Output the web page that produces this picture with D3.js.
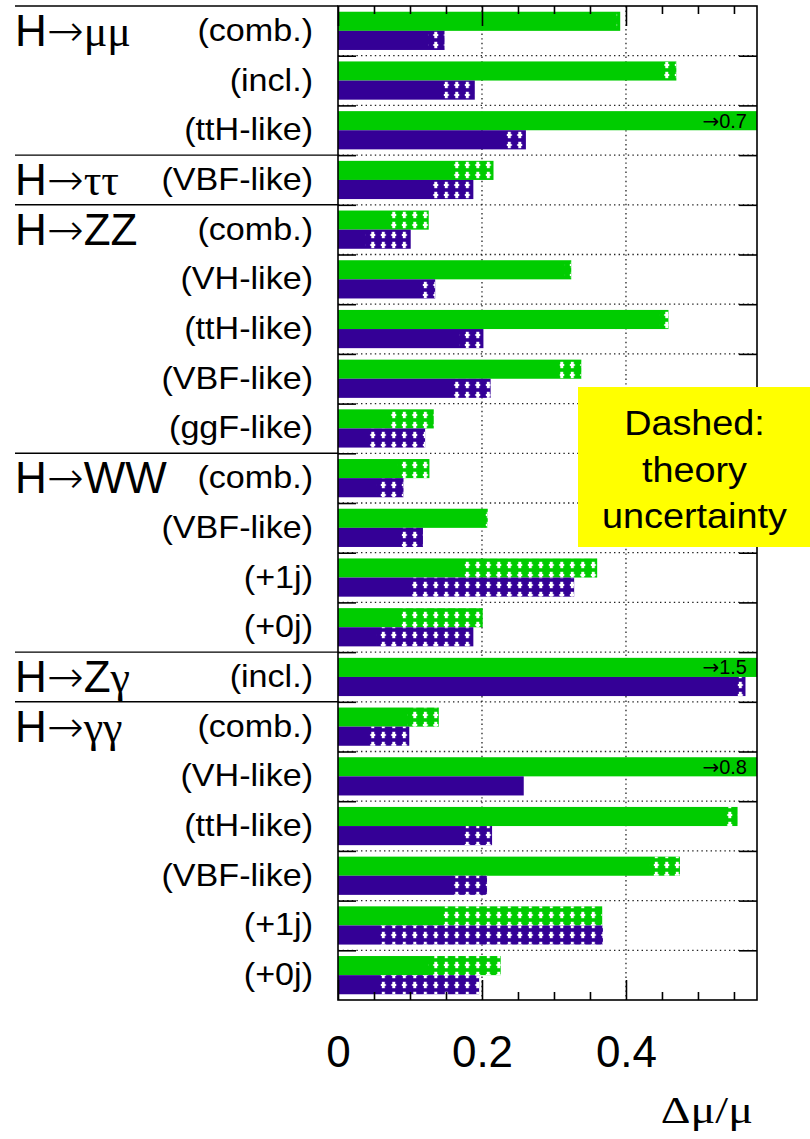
<!DOCTYPE html>
<html>
<head>
<meta charset="utf-8">
<script src="https://cdn.jsdelivr.net/npm/d3@7"></script>
<style>
body { margin: 0; background: #fff; }
svg text { font-family: "Liberation Sans", Arial, Helvetica, sans-serif; fill: #000; }
</style>
</head>
<body>
<div id="chart"></div>
<script>
// decay channels and their number of rows
var groupNames = ["H→μμ", "H→ττ", "H→ZZ", "H→WW", "H→Zγ", "H→γγ"];
var groupSizes = [3, 1, 5, 4, 1, 6];

var categories = ["(comb.)", "(incl.)", "(ttH-like)",
    "(VBF-like)",
    "(comb.)", "(VH-like)", "(ttH-like)", "(VBF-like)", "(ggF-like)",
    "(comb.)", "(VBF-like)", "(+1j)", "(+0j)",
    "(incl.)",
    "(comb.)", "(VH-like)", "(ttH-like)", "(VBF-like)", "(+1j)", "(+0j)"];

// solid part = without theory, full bar = with theory uncertainty
var greenNoTheory   = [0.387, 0.453, 0.70, 0.158, 0.068, 0.315, 0.447, 0.308, 0.068, 0.082, 0.204, 0.172, 0.085, 1.5, 0.096, 0.80, 0.537, 0.432, 0.146, 0.125];
var greenWithTheory = [0.392, 0.470, 0.70, 0.216, 0.126, 0.324, 0.459, 0.338, 0.133, 0.127, 0.208, 0.360, 0.201, 1.5, 0.140, 0.80, 0.555, 0.475, 0.367, 0.226];
var purpleNoTheory   = [0.125, 0.146, 0.230, 0.127, 0.038, 0.116, 0.169, 0.158, 0.039, 0.053, 0.088, 0.102, 0.053, 0.549, 0.041, 0.258, 0.174, 0.156, 0.056, 0.054];
var purpleWithTheory = [0.148, 0.190, 0.261, 0.188, 0.101, 0.135, 0.202, 0.212, 0.121, 0.091, 0.118, 0.328, 0.188, 0.566, 0.099, 0.258, 0.214, 0.207, 0.368, 0.196];

var xTickLabels = [0, 0.2, 0.4];
var xMinorTicks = [0.05, 0.1, 0.15, 0.25, 0.3, 0.35, 0.45, 0.5, 0.55];
var xMax = 0.582;

var legendLines = ["Dashed:", "theory", "uncertainty"];
var axisTitle = "Δμ/μ";

var width = 810, height = 1139;
var plot = {left: 338, right: 757, top: 6, bottom: 1000};

var colors = {green: "#00cc00", purple: "#340096"};
var serifFont = '"Liberation Serif", "DejaVu Serif", "Times New Roman", serif';
var arrowFont = '"DejaVu Sans", sans-serif';

var svg = d3.select("#chart").append("svg")
    .attr("width", width)
    .attr("height", height);

var x = d3.scaleLinear().domain([0, xMax]).range([plot.left, plot.right]);
var rowIdx = d3.range(categories.length);
var y = d3.scaleBand().domain(rowIdx).range([plot.top, plot.bottom]);
var yEdge = d3.scaleLinear().domain([0, categories.length]).range([plot.top, plot.bottom]);
var sub = d3.scaleBand().domain(["green", "purple"]).range([0, y.bandwidth()])
    .paddingInner(0).paddingOuter(0.3);

// white crosses for the theory part
var defs = svg.append("defs");
var pat = defs.append("pattern")
    .attr("id", "theory")
    .attr("patternUnits", "userSpaceOnUse")
    .attr("width", 10.5)
    .attr("height", 10);
pat.append("rect").attr("x", 3.8).attr("y", 1.8).attr("width", 3).attr("height", 6.4).attr("fill", "#fff");
pat.append("rect").attr("x", 2.8).attr("y", 4).attr("width", 5).attr("height", 2).attr("fill", "#fff");

defs.append("clipPath").attr("id", "plotclip")
    .append("rect")
    .attr("x", plot.left).attr("y", plot.top)
    .attr("width", plot.right - plot.left).attr("height", plot.bottom - plot.top);

// dotted grid
var grid = svg.append("g").attr("stroke", "#222").attr("stroke-width", 1.3).attr("stroke-dasharray", "1.4,3.2");
grid.selectAll(".hgrid")
    .data(d3.range(1, categories.length))
    .enter().append("line")
    .attr("x1", plot.left).attr("x2", plot.right)
    .attr("y1", function(d) { return yEdge(d); })
    .attr("y2", function(d) { return yEdge(d); });
grid.selectAll(".vgrid")
    .data(xTickLabels.slice(1))
    .enter().append("line")
    .attr("x1", function(d) { return x(d); })
    .attr("x2", function(d) { return x(d); })
    .attr("y1", plot.top).attr("y2", plot.bottom);

// bars
var series = [
    {key: "green", solid: greenNoTheory, total: greenWithTheory},
    {key: "purple", solid: purpleNoTheory, total: purpleWithTheory}
];
var bars = svg.append("g").attr("clip-path", "url(#plotclip)");
series.forEach(function(s) {
    var g = bars.append("g");
    g.selectAll(".full")
        .data(rowIdx)
        .enter().append("rect")
        .attr("x", x(0))
        .attr("y", function(i) { return y(i) + sub(s.key); })
        .attr("width", function(i) { return x(s.total[i]) - x(0); })
        .attr("height", sub.bandwidth())
        .attr("fill", colors[s.key]);
    g.selectAll(".theo")
        .data(rowIdx.filter(function(i) { return s.total[i] > s.solid[i]; }))
        .enter().append("rect")
        .attr("x", function(i) { return x(s.solid[i]); })
        .attr("y", function(i) { return y(i) + sub(s.key); })
        .attr("width", function(i) { return x(s.total[i]) - x(s.solid[i]); })
        .attr("height", sub.bandwidth())
        .attr("fill", "url(#theory)");
});

// values beyond the axis
var over = svg.append("g").selectAll("text")
    .data(rowIdx.filter(function(i) { return greenWithTheory[i] > xMax; }))
    .enter().append("text")
    .attr("x", plot.right - 10)
    .attr("y", function(i) { return y(i) + sub("green") + sub.bandwidth() - 2.5; })
    .attr("text-anchor", "end")
    .style("font-size", "20px");
over.append("tspan").style("font-family", arrowFont).text("→");
over.append("tspan").text(function(i) { return greenWithTheory[i]; });

// frame and ticks
svg.append("rect")
    .attr("x", plot.left).attr("y", plot.top)
    .attr("width", plot.right - plot.left).attr("height", plot.bottom - plot.top)
    .attr("fill", "none").attr("stroke", "#000").attr("stroke-width", 1.6);

function tickStyle(g) {
    g.select(".domain").remove();
    g.selectAll(".tick line").attr("stroke", "#000").attr("stroke-width", 1.6);
}
svg.append("g").attr("transform", "translate(" + plot.left + ",0)")
    .call(d3.axisLeft(yEdge).tickValues(d3.range(1, categories.length)).tickSize(-18).tickFormat(""))
    .call(tickStyle);
svg.append("g").attr("transform", "translate(" + plot.right + ",0)")
    .call(d3.axisRight(yEdge).tickValues(d3.range(1, categories.length)).tickSize(-18).tickFormat(""))
    .call(tickStyle);
svg.append("g").attr("transform", "translate(0," + plot.bottom + ")")
    .call(d3.axisBottom(x).tickValues(xMinorTicks).tickSize(-8).tickFormat(""))
    .call(tickStyle);
svg.append("g").attr("transform", "translate(0," + plot.top + ")")
    .call(d3.axisTop(x).tickValues(xMinorTicks).tickSize(-8).tickFormat(""))
    .call(tickStyle);
svg.append("g").attr("transform", "translate(0," + plot.top + ")")
    .call(d3.axisTop(x).tickValues(xTickLabels).tickSize(-20).tickFormat(""))
    .call(tickStyle);
var xAxis = svg.append("g").attr("transform", "translate(0," + plot.bottom + ")")
    .call(d3.axisBottom(x).tickValues(xTickLabels).tickSize(-20).tickPadding(36).tickFormat(d3.format("")))
    .call(tickStyle);
xAxis.selectAll(".tick text")
    .attr("fill", "#000")
    .style("font-family", '"Liberation Sans", Arial, sans-serif')
    .style("font-size", "44px");

svg.append("text")
    .attr("transform", "translate(753,1123) scale(1.25,1)")
    .attr("text-anchor", "end")
    .style("font-family", serifFont)
    .style("font-size", "37px")
    .text(axisTitle);

// left labels: greek letters in serif, arrow in its own font
function richText(sel, str) {
    var runs = [];
    str.split("").forEach(function(ch) {
        var kind = /[\u2190-\u21ff]/.test(ch) ? "arrow" : (/[\u0370-\u03ff]/.test(ch) ? "greek" : "latin");
        if (runs.length && runs[runs.length - 1].kind === kind) runs[runs.length - 1].t += ch;
        else runs.push({t: ch, kind: kind});
    });
    runs.forEach(function(r) {
        var t = sel.append("tspan").text(r.t);
        if (r.kind === "greek") t.style("font-family", serifFont);
        if (r.kind === "arrow") t.style("font-family", arrowFont).style("font-weight", 200);
    });
}

var groupStart = groupSizes.map(function(n, k) { return d3.sum(groupSizes.slice(0, k)); });

svg.append("g").selectAll("line")
    .data(groupStart)
    .enter().append("line")
    .attr("x1", 15).attr("x2", plot.left)
    .attr("y1", function(s) { return yEdge(s); })
    .attr("y2", function(s) { return yEdge(s); })
    .attr("stroke", "#000").attr("stroke-width", 1.4);

svg.append("g").selectAll("text")
    .data(groupNames)
    .enter().append("text")
    .attr("x", 15)
    .attr("y", function(d, k) { return yEdge(groupStart[k]) + 40; })
    .style("font-size", "44px")
    .each(function(d) { richText(d3.select(this), d); });

svg.append("g").selectAll("text")
    .data(categories)
    .enter().append("text")
    .attr("transform", function(d, i) {
        return "translate(313," + (y(i) + y.bandwidth() / 2 + 10) + ") scale(1.1,1)";
    })
    .attr("text-anchor", "end")
    .style("font-size", "31px")
    .text(function(d) { return d; });

// legend note
var note = svg.append("g");
note.append("rect")
    .attr("x", 578).attr("y", 387)
    .attr("width", width - 578).attr("height", 160)
    .attr("fill", "#ffff00");
note.selectAll("text")
    .data(legendLines)
    .enter().append("text")
    .attr("transform", function(d, k) { return "translate(694.5," + (435 + k * 46.5) + ") scale(1.08,1)"; })
    .attr("text-anchor", "middle")
    .style("font-size", "35px")
    .text(function(d) { return d; });
</script>
</body>
</html>
